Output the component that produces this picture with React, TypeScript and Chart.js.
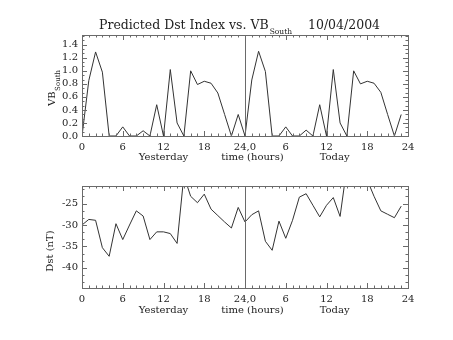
import React, { useEffect, useRef } from 'react';
import { Chart, registerables } from 'chart.js';

Chart.register(...registerables);

// ---- data ----
const HOURS = [
  0, 1, 2, 3, 4, 5, 6, 7, 8, 9, 10, 11, 12, 13, 14, 15, 16, 17, 18, 19, 20, 21, 22, 23,
  24, 25, 26, 27, 28, 29, 30, 31, 32, 33, 34, 35, 36, 37, 38, 39, 40, 41, 42, 43, 44, 45, 46, 47,
];
const VB_SOUTH = [
  0, 0.85, 1.29, 0.98, 0, 0, 0.14, 0, 0, 0.08, 0, 0.48, 0, 1.02, 0.2, 0, 1.0, 0.79, 0.84, 0.81, 0.66, 0.33, 0, 0.33,
  0, 0.86, 1.30, 0.99, 0, 0, 0.14, 0, 0, 0.09, 0, 0.48, 0, 1.02, 0.2, 0, 1.0, 0.8, 0.84, 0.81, 0.67, 0.33, 0, 0.33,
];
const DST = [
  -30.0, -28.7, -28.9, -35.3, -37.3, -29.7, -33.4, -30.0, -26.7, -27.9, -33.4, -31.6, -31.6, -32.0, -34.3, -18.5,
  -23.3, -24.8, -22.8, -26.3, -27.8, -29.3, -30.7, -25.9,
  -29.3, -27.6, -26.7, -33.8, -35.9, -29.1, -33.1, -28.9, -23.5, -22.7, -25.4, -28.1, -25.4, -23.6, -28.0, -16.5,
  -17.0, -18.0, -19.5, -23.3, -26.7, -27.5, -28.3, -25.6,
];
const X_TICK_LABELS = ['0', '6', '12', '18', '24,0', '6', '12', '18', '24'];
const X_TITLES = ['Yesterday', 'time (hours)', 'Today'];
const X_TITLE_AT = [12, 25.1, 37.2];
const TITLE_MAIN = 'Predicted Dst Index vs. VB';
const TITLE_SUB = 'South';
const TITLE_DATE = '10/04/2004';
const VB_TITLE = 'VB';
const VB_TITLE_SUB = 'South';
const DST_TITLE = 'Dst (nT)';

const FONT = "'DejaVu Serif', serif";
const INK = '#333';
const FRAME = '#6a6a6a';
const TEXT = '#222';

const framePlugin = {
  id: 'idlFrame',
  afterDatasetsDraw(chart: any, _args: any, opts: any) {
    const { ctx, chartArea: a, scales } = chart;
    const xs = scales.x;
    const ys = scales.y;
    ctx.save();
    ctx.strokeStyle = FRAME;
    ctx.lineWidth = 1;
    ctx.strokeRect(a.left + 0.5, a.top + 0.5, a.right - a.left, a.bottom - a.top);
    const MAJ = 5;
    const MIN = 2.5;
    ctx.beginPath();
    // x ticks (every hour), major every 6
    for (let v = xs.min; v <= xs.max + 1e-9; v += 1) {
      const px = Math.round(xs.getPixelForValue(v)) + 0.5;
      const len = v % 6 === 0 ? MAJ : MIN;
      ctx.moveTo(px, a.bottom);
      ctx.lineTo(px, a.bottom - len);
      ctx.moveTo(px, a.top);
      ctx.lineTo(px, a.top + len);
    }
    // y ticks
    const major = opts.yMajor;
    const minor = major / opts.yMinorCount;
    const k0 = Math.ceil(ys.min / minor - 1e-9);
    const k1 = Math.floor(ys.max / minor + 1e-9);
    for (let k = k0; k <= k1; k++) {
      const v = k * minor;
      const isMaj = Math.abs(v / major - Math.round(v / major)) < 1e-6;
      const py = Math.round(ys.getPixelForValue(v)) + 0.5;
      const len = isMaj ? MAJ : MIN;
      ctx.moveTo(a.left, py);
      ctx.lineTo(a.left + len, py);
      ctx.moveTo(a.right, py);
      ctx.lineTo(a.right - len, py);
    }
    ctx.stroke();
    // divider between yesterday and today
    const mx = Math.round(xs.getPixelForValue(24)) + 0.5;
    ctx.beginPath();
    ctx.moveTo(mx, a.top);
    ctx.lineTo(mx, a.bottom);
    ctx.stroke();

    // x titles
    ctx.fillStyle = TEXT;
    ctx.font = `10px ${FONT}`;
    ctx.textAlign = 'center';
    ctx.textBaseline = 'middle';
    X_TITLES.forEach((t, i) => {
      ctx.fillText(t, xs.getPixelForValue(X_TITLE_AT[i]), a.bottom + opts.xTitleOffset);
    });

    // y title (rotated)
    ctx.save();
    ctx.translate(opts.yTitleX, opts.yTitleY);
    ctx.rotate(-Math.PI / 2);
    ctx.textAlign = 'left';
    ctx.textBaseline = 'alphabetic';
    ctx.font = `10px ${FONT}`;
    const w1 = ctx.measureText(opts.yTitle).width;
    let w2 = 0;
    if (opts.yTitleSub) {
      ctx.font = `7px ${FONT}`;
      w2 = ctx.measureText(opts.yTitleSub).width + 0.5;
    }
    const start = -(w1 + w2) / 2;
    ctx.font = `10px ${FONT}`;
    ctx.fillText(opts.yTitle, start, 0);
    if (opts.yTitleSub) {
      ctx.font = `7px ${FONT}`;
      ctx.fillText(opts.yTitleSub, start + w1 + 0.5, 4.5);
    }
    ctx.restore();

    // main title
    if (opts.title) {
      ctx.textAlign = 'left';
      ctx.textBaseline = 'alphabetic';
      ctx.font = `12.5px ${FONT}`;
      ctx.fillText(TITLE_MAIN, 99, 29);
      const tw = ctx.measureText(TITLE_MAIN).width;
      ctx.font = `7.5px ${FONT}`;
      ctx.fillText(TITLE_SUB, 99 + tw + 1, 34);
      ctx.font = `12.5px ${FONT}`;
      ctx.fillText(TITLE_DATE, 308, 29);
    }
    ctx.restore();
  },
};

function makeConfig(values: number[], yMin: number, yMax: number, yStep: number, yFmt: (v: number) => string,
  padTop: number, xHeight: number, plugOpts: any) {
  return {
    type: 'line' as const,
    data: {
      datasets: [
        {
          data: HOURS.map((h, i) => ({ x: h, y: values[i] })),
          borderColor: INK,
          borderWidth: 1,
          pointRadius: 0,
          tension: 0,
          fill: false,
        },
      ],
    },
    options: {
      animation: false as const,
      responsive: false,
      devicePixelRatio: 1,
      layout: { padding: { left: 0, right: 45, top: padTop, bottom: 0 } },
      plugins: {
        legend: { display: false },
        title: { display: false },
        tooltip: { enabled: false },
        idlFrame: plugOpts,
      },
      scales: {
        x: {
          type: 'linear' as const,
          min: 0,
          max: 48,
          grid: { display: false, drawTicks: false },
          border: { display: false },
          afterFit: (s: any) => { s.height = xHeight; },
          ticks: {
            stepSize: 6,
            includeBounds: false,
            autoSkip: false,
            maxRotation: 0,
            padding: 5,
            color: TEXT,
            font: { family: FONT, size: 10 },
            callback: (v: any) => X_TICK_LABELS[Math.round(Number(v) / 6)] ?? '',
          },
        },
        y: {
          type: 'linear' as const,
          min: yMin,
          max: yMax,
          grid: { display: false, drawTicks: false },
          border: { display: false },
          afterFit: (s: any) => { s.width = 82; },
          ticks: {
            stepSize: yStep,
            includeBounds: false,
            autoSkip: false,
            maxTicksLimit: 20,
            padding: 4,
            color: TEXT,
            font: { family: FONT, size: 10, lineHeight: 1 },
            callback: (v: any) => yFmt(Number(v)),
          },
        },
      },
    },
    plugins: [framePlugin],
  };
}

export default function App() {
  const topRef = useRef<HTMLCanvasElement>(null);
  const botRef = useRef<HTMLCanvasElement>(null);

  useEffect(() => {
    const top = new Chart(topRef.current as HTMLCanvasElement, makeConfig(
      VB_SOUTH, 0, 1.55, 0.2, (v) => v.toFixed(1), 35, 34,
      { yMajor: 0.2, yMinorCount: 3, xTitleOffset: 21.5, yTitleX: 55, yTitleY: 88, yTitle: VB_TITLE, yTitleSub: VB_TITLE_SUB, title: true },
    ) as any);
    const bot = new Chart(botRef.current as HTMLCanvasElement, makeConfig(
      DST, -44.7, -20.9, 5, (v) => String(Math.round(v)), 16, 52,
      { yMajor: 5, yMinorCount: 3, xTitleOffset: 22.5, yTitleX: 52.5, yTitleY: 81, yTitle: DST_TITLE, yTitleSub: '', title: false },
    ) as any);
    return () => {
      top.destroy();
      bot.destroy();
    };
  }, []);

  return (
    <div style={{ position: 'absolute', left: 0, top: 0, width: 453, height: 340, background: '#fff' }}>
      <canvas ref={topRef} width={453} height={170} style={{ position: 'absolute', left: 0, top: 0, width: 453, height: 170 }} />
      <canvas ref={botRef} width={453} height={170} style={{ position: 'absolute', left: 0, top: 170, width: 453, height: 170 }} />
    </div>
  );
}
